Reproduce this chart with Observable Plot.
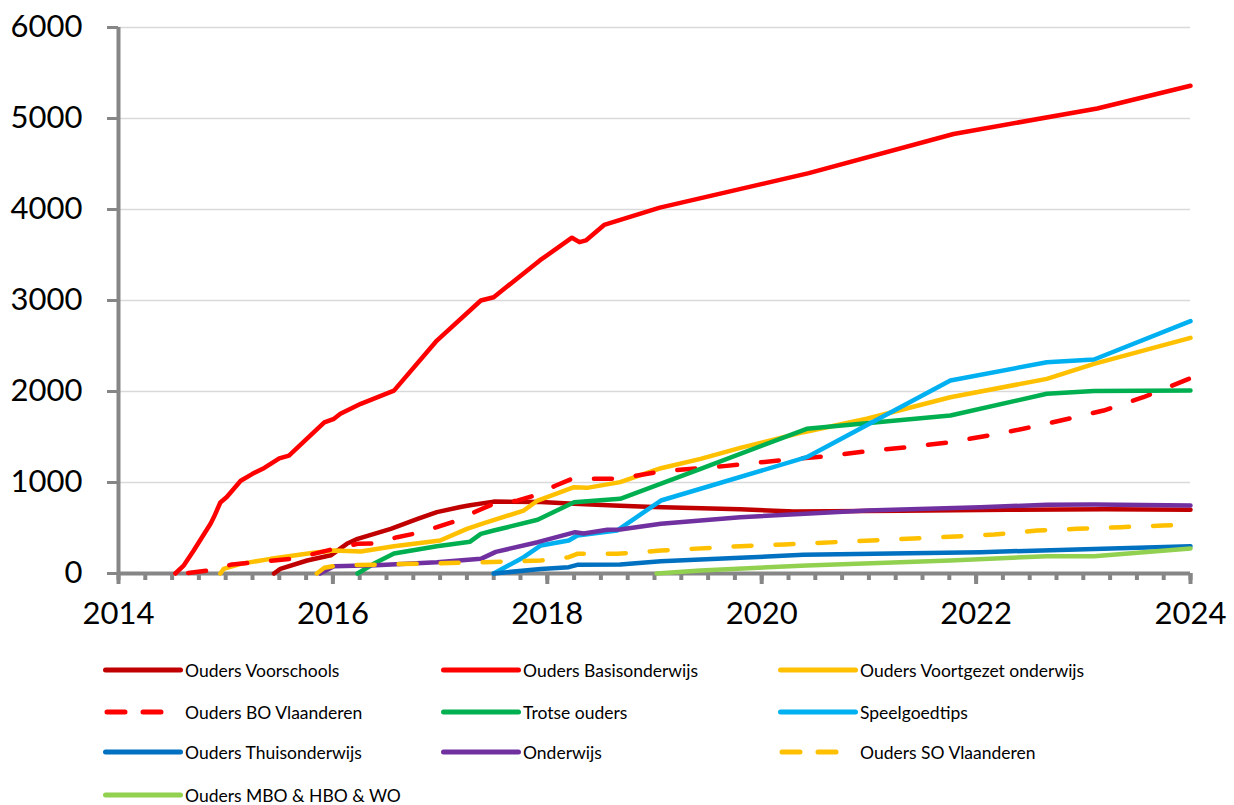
<!DOCTYPE html>
<html><head><meta charset="utf-8">
<script src="https://cdn.jsdelivr.net/npm/d3@7"></script>
<script src="https://cdn.jsdelivr.net/npm/@observablehq/plot@0.6"></script>
<style>
body{margin:0;background:#fff;font-family:Lato,"Liberation Sans",sans-serif;}
#chart{width:1234px;height:640px;}
#legend{position:relative;width:1234px;height:165px;}
.item{position:absolute;display:flex;align-items:center;height:24px;font-size:17.5px;color:#000;white-space:nowrap;}
.item svg{display:block;margin-right:2px;}
</style></head><body>
<div id="chart"></div><div id="legend"></div>
<script>
// ---- data: [year, members] ----
const oudersVoorschools = [[2015.45,0],[2015.51,50],[2015.76,143],[2015.98,200],[2016.13,326],[2016.23,381],[2016.54,491],[2016.79,600],[2016.97,674],[2017.19,730],[2017.28,750],[2017.50,790],[2017.94,785],[2018.25,766],[2018.62,747],[2018.99,730],[2019.8,705],[2020.3,682],[2021.3,690],[2022.3,700],[2023.2,705],[2024,700]];
const oudersBasisonderwijs = [[2014.53,0],[2014.61,90],[2014.70,250],[2014.86,550],[2014.89,620],[2014.95,780],[2015.01,840],[2015.14,1020],[2015.25,1095],[2015.36,1160],[2015.50,1265],[2015.59,1295],[2015.92,1660],[2016.01,1700],[2016.07,1755],[2016.26,1865],[2016.57,2010],[2016.97,2560],[2017.38,3000],[2017.50,3036],[2017.93,3440],[2018.23,3690],[2018.30,3641],[2018.36,3660],[2018.53,3830],[2019.05,4020],[2020.44,4400],[2021.79,4830],[2023.13,5110],[2024,5360]];
const oudersVoortgezet = [[2014.95,0],[2014.98,50],[2015.14,106],[2015.42,161],[2015.82,227],[2016.01,252],[2016.26,242],[2016.57,300],[2017.0,363],[2017.25,491],[2017.41,553],[2017.78,692],[2017.91,802],[2018.25,948],[2018.37,941],[2018.68,1004],[2019.06,1157],[2019.43,1260],[2019.80,1381],[2020.39,1553],[2020.98,1700],[2021.76,1937],[2022.66,2139],[2023.1,2304],[2024,2590]];
const oudersBOVlaanderen = [[2014.65,5],[2014.85,35],[2015.06,100],[2015.45,143],[2015.64,165],[2015.82,216],[2016.01,270],[2016.23,326],[2016.38,330],[2016.60,399],[2016.79,445],[2016.97,509],[2017.16,582],[2017.35,690],[2017.50,766],[2017.72,800],[2017.88,857],[2018.08,967],[2018.23,1040],[2018.63,1040],[2018.84,1077],[2019.02,1113],[2019.24,1140],[2019.65,1180],[2020.21,1249],[2020.58,1286],[2020.98,1344],[2021.36,1388],[2021.76,1443],[2022.13,1520],[2022.44,1590],[2022.82,1689],[2023.19,1791],[2023.56,1937],[2024,2146]];
const trotseOuders = [[2016.23,0],[2016.38,106],[2016.57,220],[2016.97,300],[2017.28,350],[2017.38,436],[2017.50,472],[2017.91,590],[2018.25,784],[2018.68,821],[2019.43,1150],[2020.42,1590],[2021.76,1736],[2022.66,1975],[2023.1,2005],[2024,2010]];
const speelgoedtips = [[2017.50,0],[2017.78,179],[2017.94,308],[2018.2,363],[2018.28,418],[2018.65,472],[2019.06,802],[2019.43,931],[2020.42,1278],[2021.76,2121],[2022.66,2322],[2023.1,2352],[2024,2773]];
const oudersThuisonderwijs = [[2017.5,0],[2017.94,50],[2018.2,70],[2018.28,95],[2018.68,99],[2019.06,135],[2019.8,172],[2020.39,205],[2022.04,234],[2023.1,270],[2024,300]];
const onderwijs = [[2015.88,0],[2016.01,80],[2016.4,90],[2016.97,124],[2017.38,161],[2017.52,238],[2017.91,344],[2018.2,436],[2018.26,454],[2018.34,440],[2018.56,480],[2018.68,484],[2019.06,546],[2019.80,619],[2020.98,692],[2022.04,729],[2022.66,755],[2023.1,758],[2024,747]];
const oudersSOVlaanderen = [[2015.85,0],[2015.92,63],[2016.04,88],[2017.41,124],[2017.94,143],[2018.2,179],[2018.28,216],[2018.65,216],[2019.06,252],[2019.8,300],[2020.21,319],[2021.36,381],[2022.17,428],[2022.57,472],[2022.94,491],[2023.35,509],[2023.74,527],[2024,535]];
const oudersMBO = [[2019.02,0],[2019.43,33],[2020.42,88],[2021.76,143],[2022.66,190],[2023.1,190],[2024,275]];

const seriesNames = ["Ouders Voorschools","Ouders Basisonderwijs","Ouders Voortgezet onderwijs","Ouders BO Vlaanderen","Trotse ouders","Speelgoedtips","Ouders Thuisonderwijs","Onderwijs","Ouders SO Vlaanderen","Ouders MBO & HBO & WO"];
const seriesData = [oudersVoorschools,oudersBasisonderwijs,oudersVoortgezet,oudersBOVlaanderen,trotseOuders,speelgoedtips,oudersThuisonderwijs,onderwijs,oudersSOVlaanderen,oudersMBO];
const seriesColors = ["#C00000","#FF0000","#FFC000","#FF0000","#00B050","#00B0F0","#0070C0","#7030A0","#FFC000","#92D050"];
const seriesDashed = [false,false,false,true,false,false,false,false,true,false];

const yTicks = [0,1000,2000,3000,4000,5000,6000];
const xMajorTicks = [2014,2016,2018,2020,2022,2024];
const xMinorTicks = d3.range(0,41).map(i => 2014 + i/4);

const axisGray = "#868686";
const marks = [
  Plot.gridY(yTicks.filter(d => d > 0), {stroke:"#d9d9d9", strokeOpacity:1, strokeWidth:1.5}),
  Plot.axisX(xMinorTicks, {tickSize:7, tickFormat:() => "", stroke:axisGray, strokeWidth:4, label:null}),
  Plot.axisX(xMajorTicks, {tickSize:11, tickPadding:17, tickFormat:d => String(d), stroke:axisGray, fill:"#000", strokeWidth:4, label:null}),
  Plot.axisY(yTicks, {tickSize:11, tickPadding:25, tickFormat:d => String(d), stroke:axisGray, fill:"#000", strokeWidth:3, label:null}),
  Plot.ruleX([2014], {stroke:axisGray, strokeWidth:4}),
  Plot.ruleY([0], {stroke:axisGray, strokeWidth:4}),
];
seriesData.forEach((data, i) => {
  marks.push(Plot.line(data, {
    x: d => d[0], y: d => d[1],
    stroke: seriesColors[i], strokeWidth: 4.5,
    strokeLinecap: "round", strokeLinejoin: "round",
    strokeDasharray: seriesDashed[i] ? "18,24" : null
  }));
});

const chart = Plot.plot({
  width: 1234, height: 640,
  marginLeft: 118, marginRight: 44, marginTop: 27, marginBottom: 67,
  style: {fontFamily: "Lato, 'Liberation Sans', sans-serif", fontSize: "31px", color: "#000", background: "#fff", overflow: "visible"},
  x: {domain: [2014, 2024]},
  y: {domain: [0, 6000]},
  marks
});
document.getElementById("chart").appendChild(chart);

// legend
const colX = [103, 441, 778];
const rowY = [30, 72, 112, 155];
const legend = document.getElementById("legend");
seriesNames.forEach((name, i) => {
  const col = i % 3, row = Math.floor(i / 3);
  const item = document.createElement("div");
  item.className = "item";
  item.style.left = colX[col] + "px";
  item.style.top = (rowY[row] - 12) + "px";
  const ns = "http://www.w3.org/2000/svg";
  const svg = document.createElementNS(ns, "svg");
  svg.setAttribute("width", 80); svg.setAttribute("height", 10);
  const ln = document.createElementNS(ns, "line");
  ln.setAttribute("x1", seriesDashed[i] ? 4 : 2.5);
  ln.setAttribute("x2", seriesDashed[i] ? 58 : 77.5);
  ln.setAttribute("y1", 5); ln.setAttribute("y2", 5);
  ln.setAttribute("stroke", seriesColors[i]);
  ln.setAttribute("stroke-width", 5);
  ln.setAttribute("stroke-linecap", "round");
  if (seriesDashed[i]) ln.setAttribute("stroke-dasharray", "18,18");
  svg.appendChild(ln);
  item.appendChild(svg);
  const span = document.createElement("span");
  span.textContent = name;
  item.appendChild(span);
  legend.appendChild(item);
});
</script>
</body></html>
